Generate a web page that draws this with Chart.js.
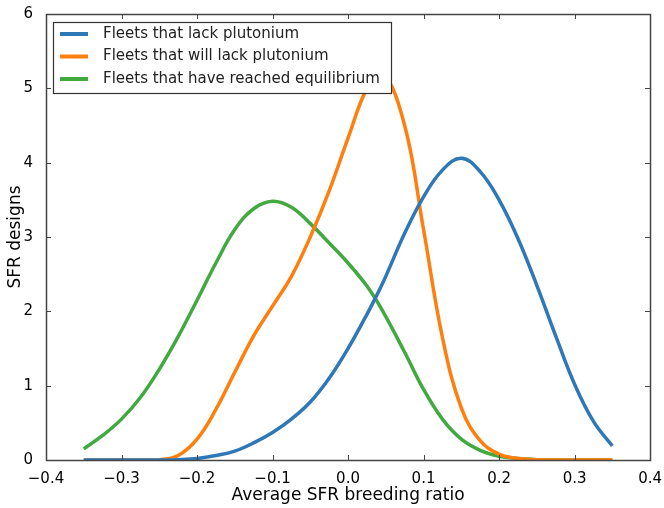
<!DOCTYPE html>
<html>
<head>
<meta charset="utf-8">
<script src="https://cdn.jsdelivr.net/npm/chart.js@4/dist/chart.umd.min.js"></script>
<style>
    html, body { margin: 0; padding: 0; background: #fff; }
    #wrap { width: 664px; height: 508px; }
</style>
</head>
<body>
<div id="wrap"><canvas id="chart" width="664" height="508"></canvas></div>
<script>
// Breeding ratio sample points (x) and the three density curves
const ratios = [-0.35, -0.325, -0.3, -0.275, -0.25, -0.225, -0.2, -0.175, -0.15, -0.125, -0.1, -0.075, -0.05, -0.025,
    0, 0.025, 0.045, 0.075, 0.1, 0.125, 0.15, 0.175, 0.2, 0.225, 0.25, 0.275, 0.3, 0.325, 0.35];
const lackPu = [0, 0, 0, 0, 0, 0.005, 0.02, 0.06, 0.12, 0.23, 0.37, 0.55, 0.78, 1.1,
    1.5, 1.96, 2.36, 3.05, 3.54, 3.9, 4.06, 3.88, 3.5, 2.98, 2.35, 1.67, 1.02, 0.52, 0.19];
const willLackPu = [0, 0, 0, 0, 0.005, 0.06, 0.28, 0.68, 1.18, 1.67, 2.07, 2.47, 3.0, 3.62,
    4.33, 5.0, 5.22, 4.5, 3.1, 1.65, 0.7, 0.26, 0.08, 0.02, 0.005, 0, 0, 0, 0];
const equilibrium = [0.15, 0.33, 0.55, 0.84, 1.22, 1.66, 2.15, 2.65, 3.1, 3.38, 3.48, 3.4, 3.18, 2.92,
    2.65, 2.34, 2.02, 1.45, 0.95, 0.55, 0.28, 0.13, 0.05, 0.02, 0.005, 0, 0, 0, 0];

const seriesLabels = ['Fleets that lack plutonium', 'Fleets that will lack plutonium', 'Fleets that have reached equilibrium'];
const xTicks = [-0.4, -0.3, -0.2, -0.1, 0, 0.1, 0.2, 0.3, 0.4];
const yTicks = [0, 1, 2, 3, 4, 5, 6];

const FONT = "'DejaVu Sans', sans-serif";

function toPoints(values) {
    return values.map((v, i) => ({ x: ratios[i], y: v }));
}

function fmtTick(v) {
    return v.toFixed(1).replace('-', '\u2212');
}

// frame, inward ticks on all four sides, and the boxed legend inside the plot
const mplFrame = {
    id: 'mplFrame',
    afterDraw(chart) {
        const ctx = chart.ctx;
        const a = chart.chartArea;
        const xs = chart.scales.x;
        const ys = chart.scales.y;
        const len = 5;

        ctx.save();
        ctx.strokeStyle = '#444';
        ctx.lineWidth = 1;
        ctx.beginPath();
        xTicks.forEach(t => {
            const px = Math.round(xs.getPixelForValue(t)) + 0.5;
            ctx.moveTo(px, a.bottom); ctx.lineTo(px, a.bottom - len);
            ctx.moveTo(px, a.top); ctx.lineTo(px, a.top + len);
        });
        yTicks.forEach(t => {
            const py = Math.round(ys.getPixelForValue(t)) + 0.5;
            ctx.moveTo(a.left, py); ctx.lineTo(a.left + len, py);
            ctx.moveTo(a.right, py); ctx.lineTo(a.right - len, py);
        });
        ctx.stroke();
        ctx.lineWidth = 1.5;
        ctx.strokeRect(Math.round(a.left) + 0.5, Math.round(a.top) + 0.5,
            Math.round(a.right - a.left), Math.round(a.bottom - a.top));

        // legend
        const lx = a.left + 7, ly = a.top + 8;
        const lw = 338, lh = 71;
        ctx.fillStyle = '#fff';
        ctx.fillRect(lx, ly, lw, lh);
        ctx.lineWidth = 1.2;
        ctx.strokeStyle = '#333';
        ctx.strokeRect(lx + 0.5, ly + 0.5, lw, lh);
        ctx.font = '15px ' + FONT;
        ctx.textBaseline = 'middle';
        ctx.textAlign = 'left';
        chart.data.datasets.forEach((ds, i) => {
            const cy = ly + 12 + i * 22.5;
            ctx.strokeStyle = ds.borderColor;
            ctx.lineWidth = 4;
            ctx.beginPath();
            ctx.moveTo(lx + 7, cy);
            ctx.lineTo(lx + 35, cy);
            ctx.stroke();
            ctx.fillStyle = '#222';
            ctx.fillText(ds.label, lx + 50, cy);
        });
        ctx.restore();
    }
};

const colors = ['#2f78b7', '#ff7f0e', '#41a940'];
const seriesValues = [lackPu, willLackPu, equilibrium];

new Chart(document.getElementById('chart'), {
    type: 'line',
    data: {
        datasets: seriesValues.map((vals, i) => ({
            label: seriesLabels[i],
            data: toPoints(vals),
            borderColor: colors[i],
            borderWidth: 3.5,
            pointRadius: 0,
            fill: false,
            tension: 0.4,
            clip: 0
        }))
    },
    options: {
        responsive: false,
        animation: false,
        layout: { padding: { top: 14, right: 12, left: 0, bottom: 0 } },
        plugins: {
            legend: { display: false },
            tooltip: { enabled: false }
        },
        scales: {
            x: {
                type: 'linear',
                min: -0.4,
                max: 0.4,
                afterBuildTicks: s => { s.ticks = xTicks.map(v => ({ value: v })); },
                afterFit: s => { s.height = 48; },
                grid: { display: false },
                border: { display: false },
                ticks: {
                    font: { family: FONT, size: 15 },
                    color: '#000',
                    padding: 2,
                    maxRotation: 0,
                    callback: v => fmtTick(v)
                },
                title: {
                    display: true,
                    text: 'Average SFR breeding ratio',
                    font: { family: FONT, size: 17 },
                    color: '#000',
                    padding: { top: 0, bottom: 2 }
                }
            },
            y: {
                min: 0,
                max: 6,
                afterBuildTicks: s => { s.ticks = yTicks.map(v => ({ value: v })); },
                afterFit: s => { s.width = 46; },
                grid: { display: false },
                border: { display: false },
                ticks: {
                    font: { family: FONT, size: 15 },
                    color: '#000',
                    padding: 5,
                    callback: v => String(v)
                },
                title: {
                    display: true,
                    text: 'SFR designs',
                    font: { family: FONT, size: 17 },
                    color: '#000',
                    padding: { top: 5, bottom: 0 }
                }
            }
        }
    },
    plugins: [mplFrame]
});
</script>
</body>
</html>
